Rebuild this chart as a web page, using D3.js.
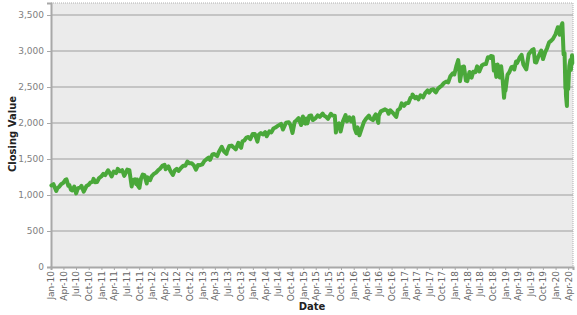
<!DOCTYPE html>
<html>
<head>
<meta charset="utf-8">
<script src="https://cdn.jsdelivr.net/npm/d3@7"></script>
<style>
  body { margin: 0; background: #fff; }
  svg { display: block; font-family: "DejaVu Sans", Verdana, sans-serif; }
</style>
</head>
<body>
<svg id="chart" width="577" height="315"></svg>
<script>
(function() {

  // S&P 500 closing values
  var dates = [
    "2010-01-04","2010-01-19","2010-02-08","2010-02-16","2010-03-01","2010-03-15","2010-03-31","2010-04-15","2010-04-23","2010-05-06","2010-05-14","2010-05-25","2010-06-04","2010-06-18","2010-07-02","2010-07-15","2010-07-30","2010-08-09","2010-08-26","2010-09-15","2010-09-30","2010-10-15","2010-10-29","2010-11-05","2010-11-16","2010-11-30","2010-12-15","2010-12-31",
    "2011-01-14","2011-01-28","2011-02-18","2011-03-02","2011-03-16","2011-03-31","2011-04-18","2011-04-29","2011-05-16","2011-05-31","2011-06-15","2011-06-30","2011-07-07","2011-07-22","2011-08-08","2011-08-15","2011-08-31","2011-09-09","2011-09-16","2011-09-22","2011-10-03","2011-10-14","2011-10-27","2011-11-08","2011-11-25","2011-11-30","2011-12-19","2011-12-30",
    "2012-01-13","2012-01-31","2012-02-15","2012-02-29","2012-03-16","2012-04-02","2012-04-10","2012-04-30","2012-05-15","2012-06-01","2012-06-15","2012-06-29","2012-07-12","2012-07-31","2012-08-15","2012-08-31","2012-09-14","2012-09-28","2012-10-15","2012-10-31","2012-11-15","2012-11-30","2012-12-14","2012-12-31",
    "2013-01-15","2013-01-31","2013-02-15","2013-02-25","2013-03-14","2013-03-28","2013-04-18","2013-04-30","2013-05-21","2013-06-05","2013-06-24","2013-06-28","2013-07-15","2013-07-31","2013-08-15","2013-08-30","2013-09-18","2013-09-30","2013-10-08","2013-10-18","2013-10-31","2013-11-15","2013-11-29","2013-12-13","2013-12-31",
    "2014-01-15","2014-02-03","2014-02-14","2014-02-28","2014-03-14","2014-03-31","2014-04-11","2014-04-30","2014-05-15","2014-05-30","2014-06-13","2014-06-30","2014-07-24","2014-08-07","2014-08-29","2014-09-18","2014-09-30","2014-10-15","2014-10-31","2014-11-14","2014-11-28","2014-12-16","2014-12-29",
    "2015-01-06","2015-01-15","2015-01-22","2015-01-30","2015-02-13","2015-02-27","2015-03-11","2015-03-31","2015-04-15","2015-04-30","2015-05-21","2015-05-29","2015-06-15","2015-06-29","2015-07-20","2015-07-31","2015-08-17","2015-08-25","2015-08-31","2015-09-16","2015-09-28","2015-10-15","2015-11-03","2015-11-13","2015-11-30","2015-12-14","2015-12-29",
    "2016-01-08","2016-01-20","2016-01-29","2016-02-11","2016-02-29","2016-03-15","2016-03-31","2016-04-20","2016-04-29","2016-05-19","2016-05-31","2016-06-08","2016-06-27","2016-06-30","2016-07-15","2016-08-15","2016-08-31","2016-09-09","2016-09-22","2016-10-14","2016-11-04","2016-11-15","2016-11-30","2016-12-13","2016-12-30",
    "2017-01-13","2017-01-31","2017-02-15","2017-02-28","2017-03-01","2017-03-21","2017-03-31","2017-04-13","2017-04-28","2017-05-17","2017-05-31","2017-06-19","2017-06-30","2017-07-14","2017-07-31","2017-08-10","2017-08-18","2017-08-31","2017-09-15","2017-09-29","2017-10-16","2017-10-31","2017-11-15","2017-11-30","2017-12-18","2017-12-29",
    "2018-01-12","2018-01-26","2018-02-02","2018-02-08","2018-02-26","2018-03-09","2018-03-23","2018-04-02","2018-04-18","2018-04-30","2018-05-03","2018-05-15","2018-05-31","2018-06-12","2018-06-28","2018-07-16","2018-07-31","2018-08-15","2018-08-29","2018-09-14","2018-09-20","2018-10-03","2018-10-11","2018-10-17","2018-10-29","2018-11-07","2018-11-23","2018-12-03","2018-12-14","2018-12-24","2018-12-31",
    "2019-01-03","2019-01-18","2019-01-31","2019-02-15","2019-02-28","2019-03-08","2019-03-21","2019-03-29","2019-04-15","2019-04-30","2019-05-13","2019-05-31","2019-06-03","2019-06-20","2019-07-15","2019-07-26","2019-08-05","2019-08-14","2019-08-30","2019-09-19","2019-10-02","2019-10-18","2019-10-31","2019-11-15","2019-11-29","2019-12-13","2019-12-31",
    "2020-01-17","2020-01-31","2020-02-07","2020-02-19","2020-02-28","2020-03-06","2020-03-12","2020-03-13","2020-03-16","2020-03-23","2020-03-26","2020-04-01","2020-04-09","2020-04-17","2020-04-21","2020-04-29","2020-05-01"
  ];

  var closes = [
    1133,1150,1056,1094,1115,1150,1169,1211,1217,1128,1136,1074,1064,1117,1022,1096,1102,1127,1047,1125,1141,1176,1183,1225,1178,1181,1236,1258,
    1293,1276,1343,1308,1257,1326,1305,1364,1329,1345,1265,1321,1353,1346,1119,1204,1219,1154,1216,1129,1099,1225,1285,1276,1159,1247,1206,1258,
    1289,1312,1343,1366,1404,1419,1358,1398,1330,1278,1343,1362,1334,1379,1405,1407,1465,1441,1441,1412,1353,1416,1414,1426,
    1472,1498,1520,1488,1563,1569,1541,1598,1669,1608,1573,1606,1682,1686,1661,1633,1725,1682,1656,1745,1757,1798,1806,1775,1848,
    1848,1742,1838,1859,1841,1872,1816,1884,1870,1924,1937,1960,1988,1910,2003,2011,1972,1862,2018,2039,2068,1972,2091,
    2003,1992,2063,1995,2097,2105,2041,2068,2106,2086,2131,2107,2085,2058,2128,2104,2102,1868,1972,1996,1881,2023,2110,2023,2080,2021,2078,
    1922,1859,1940,1829,1932,2015,2060,2102,2065,2040,2097,2119,2001,2099,2162,2190,2171,2128,2177,2133,2085,2180,2199,2272,2239,
    2275,2279,2350,2364,2396,2344,2363,2329,2384,2357,2412,2453,2423,2459,2470,2438,2426,2472,2500,2519,2557,2575,2565,2648,2690,2674,
    2786,2873,2762,2581,2780,2786,2588,2582,2708,2648,2630,2711,2705,2787,2716,2798,2816,2818,2914,2905,2931,2926,2729,2810,2641,2814,2633,2790,2600,2351,2507,
    2448,2671,2704,2776,2784,2743,2855,2834,2906,2946,2812,2752,2744,2954,3014,3026,2845,2840,2926,3006,2888,2986,3038,3120,3141,3169,3231,
    3330,3226,3328,3386,2954,2972,2481,2711,2386,2237,2630,2471,2790,2875,2737,2940,2831
  ];

  var yTicks = [0, 500, 1000, 1500, 2000, 2500, 3000, 3500];

  var parse = d3.timeParse("%Y-%m-%d");
  var points = dates.map(function(d, i) { return { date: parse(d), value: closes[i] }; });

  var svg = d3.select("#chart");
  var left = 51, right = 573, top = 3, bottom = 267;

  var x = d3.scaleTime()
      .domain([new Date(2010, 0, 1), new Date(2020, 4, 6)])
      .range([left, right]);

  var y = d3.scaleLinear()
      .domain([0, 3667])
      .range([bottom, top]);

  // plot background
  svg.append("rect")
      .attr("x", left)
      .attr("y", top)
      .attr("width", right - left)
      .attr("height", bottom - top)
      .style("fill", "#ebebeb");

  // horizontal grid lines
  svg.append("g")
      .selectAll("line")
      .data(yTicks.filter(function(t) { return t > 0; }))
      .join("line")
      .attr("x1", left)
      .attr("x2", right)
      .attr("y1", function(d) { return y(d); })
      .attr("y2", function(d) { return y(d); })
      .style("stroke", "#c4c4c4")
      .style("stroke-width", 2);

  // dotted top / right border
  svg.append("path")
      .attr("d", "M" + left + "," + top + "H" + right + "V" + bottom)
      .style("fill", "none")
      .style("stroke", "#b0b0b0")
      .style("stroke-width", 1)
      .style("stroke-dasharray", "1,1");

  // y axis
  var yAxis = svg.append("g")
      .attr("transform", "translate(" + left + ",0)")
      .call(d3.axisLeft(y).tickValues(yTicks).tickSize(4).tickPadding(3)
        .tickFormat(d3.format(",")));
  yAxis.select(".domain").style("stroke", "#a8a8a8").style("stroke-width", 2);
  yAxis.selectAll(".tick line").style("stroke", "#a8a8a8");
  yAxis.selectAll("text")
      .style("font-size", "9px")
      .style("fill", "#808080")
      .style("font-family", "DejaVu Sans, Verdana, sans-serif");

  // x axis, quarterly ticks
  var xAxis = svg.append("g")
      .attr("transform", "translate(0," + bottom + ")")
      .call(d3.axisBottom(x)
        .ticks(d3.timeMonth.every(3))
        .tickSize(3)
        .tickFormat(d3.timeFormat("%b-%y")));
  xAxis.select(".domain").style("stroke", "#a8a8a8").style("stroke-width", 2);
  xAxis.selectAll(".tick line").style("stroke", "#a8a8a8");
  xAxis.selectAll("text")
      .attr("transform", "rotate(-90)")
      .attr("x", -4)
      .attr("y", 0)
      .attr("dy", "0.32em")
      .style("text-anchor", "end")
      .style("font-size", "9px")
      .style("fill", "#666")
      .style("font-family", "DejaVu Sans, Verdana, sans-serif");

  // the line
  var line = d3.line()
      .x(function(d) { return x(d.date); })
      .y(function(d) { return y(d.value); });

  svg.append("path")
      .datum(points)
      .attr("d", line)
      .style("fill", "none")
      .style("stroke", "#4aa83a")
      .style("stroke-width", 4)
      .style("stroke-linejoin", "round")
      .style("stroke-linecap", "round");

  // axis titles
  svg.append("text")
      .attr("x", 312)
      .attr("y", 310)
      .attr("text-anchor", "middle")
      .style("font-size", "10px")
      .style("font-weight", "bold")
      .style("fill", "#222")
      .text("Date");

  svg.append("text")
      .attr("transform", "translate(16,134) rotate(-90)")
      .attr("text-anchor", "middle")
      .style("font-size", "10px")
      .style("font-weight", "bold")
      .style("fill", "#222")
      .text("Closing Value");

})();
</script>
</body>
</html>
